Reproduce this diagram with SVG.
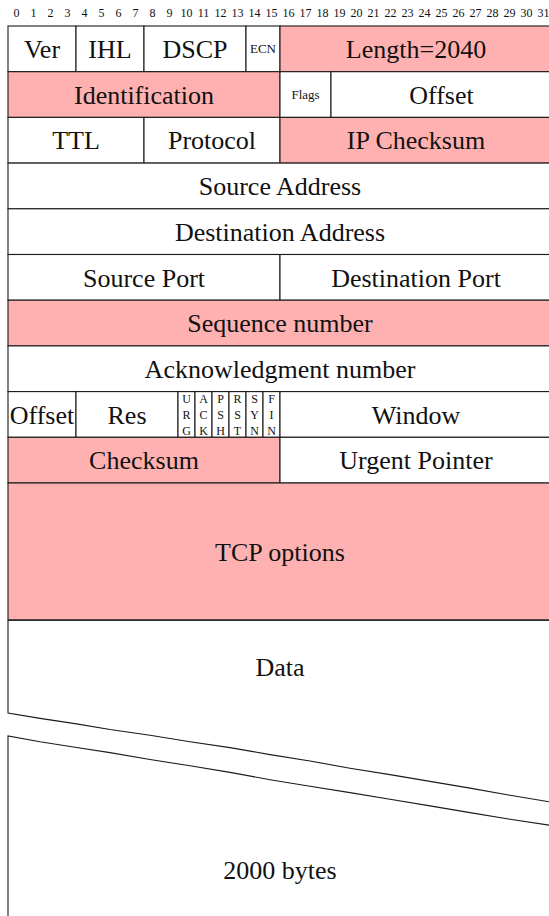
<svg xmlns="http://www.w3.org/2000/svg" width="549" height="916" viewBox="0 0 549 916" font-family="'Liberation Serif','Times New Roman',serif">
<style>
rect{stroke:#1a1a1a;stroke-width:1.1;fill:#ffffff}
rect.p{fill:#ffb1b1}
text{font-family:"Liberation Serif","Times New Roman",serif;fill:#111;text-anchor:middle}
.l{font-size:26px}
.s{font-size:13px}
.f{font-size:12px}
.n{font-size:12px}
.brk{fill:none;stroke:#1a1a1a;stroke-width:1.1}
</style>
<rect x="0" y="0" width="549" height="916" style="fill:#fff;stroke:none"/>
<g id="bits">
<text class="n" x="16.5" y="17">0</text><text class="n" x="33.5" y="17">1</text><text class="n" x="50.5" y="17">2</text><text class="n" x="67.5" y="17">3</text><text class="n" x="84.5" y="17">4</text><text class="n" x="101.5" y="17">5</text><text class="n" x="118.5" y="17">6</text><text class="n" x="135.5" y="17">7</text><text class="n" x="152.5" y="17">8</text><text class="n" x="169.5" y="17">9</text><text class="n" x="186.5" y="17">10</text><text class="n" x="203.5" y="17">11</text><text class="n" x="220.5" y="17">12</text><text class="n" x="237.5" y="17">13</text><text class="n" x="254.5" y="17">14</text><text class="n" x="271.5" y="17">15</text><text class="n" x="288.5" y="17">16</text><text class="n" x="305.5" y="17">17</text><text class="n" x="322.5" y="17">18</text><text class="n" x="339.5" y="17">19</text><text class="n" x="356.5" y="17">20</text><text class="n" x="373.5" y="17">21</text><text class="n" x="390.5" y="17">22</text><text class="n" x="407.5" y="17">23</text><text class="n" x="424.5" y="17">24</text><text class="n" x="441.5" y="17">25</text><text class="n" x="458.5" y="17">26</text><text class="n" x="475.5" y="17">27</text><text class="n" x="492.5" y="17">28</text><text class="n" x="509.5" y="17">29</text><text class="n" x="526.5" y="17">30</text><text class="n" x="543.5" y="17">31</text>
</g>
<g id="ver"><rect x="8" y="26" width="68" height="45.7"/><text class="l" x="42" y="58">Ver</text></g>
<g id="ihl"><rect x="76" y="26" width="68" height="45.7"/><text class="l" x="110" y="58">IHL</text></g>
<g id="dscp"><rect x="144" y="26" width="102" height="45.7"/><text class="l" x="195" y="58">DSCP</text></g>
<g id="ecn"><rect x="246" y="26" width="34" height="45.7"/><text class="s" x="263" y="53">ECN</text></g>
<g id="length"><rect class="p" x="280" y="26" width="272" height="45.7"/><text class="l" x="416" y="58">Length=2040</text></g>
<g id="identification"><rect class="p" x="8" y="71.7" width="272" height="45.7"/><text class="l" x="144" y="103.5">Identification</text></g>
<g id="flags"><rect x="280" y="71.7" width="51" height="45.7"/><text class="s" x="305.5" y="99">Flags</text></g>
<g id="fragoffset"><rect x="331" y="71.7" width="221" height="45.7"/><text class="l" x="441.5" y="103.5">Offset</text></g>
<g id="ttl"><rect x="8" y="117.4" width="136" height="45.7"/><text class="l" x="76" y="149">TTL</text></g>
<g id="protocol"><rect x="144" y="117.4" width="136" height="45.7"/><text class="l" x="212" y="149">Protocol</text></g>
<g id="ipchecksum"><rect class="p" x="280" y="117.4" width="272" height="45.7"/><text class="l" x="416" y="149">IP Checksum</text></g>
<g id="srcaddr"><rect x="8" y="163.1" width="544" height="45.7"/><text class="l" x="280" y="195">Source Address</text></g>
<g id="dstaddr"><rect x="8" y="208.8" width="544" height="45.7"/><text class="l" x="280" y="240.5">Destination Address</text></g>
<g id="srcport"><rect x="8" y="254.5" width="272" height="45.7"/><text class="l" x="144" y="286.5">Source Port</text></g>
<g id="dstport"><rect x="280" y="254.5" width="272" height="45.7"/><text class="l" x="416" y="286.5">Destination Port</text></g>
<g id="seq"><rect class="p" x="8" y="300.2" width="544" height="45.7"/><text class="l" x="280" y="332">Sequence number</text></g>
<g id="ack"><rect x="8" y="345.9" width="544" height="45.7"/><text class="l" x="280" y="377.5">Acknowledgment number</text></g>
<g id="dataoffset"><rect x="8" y="391.6" width="68" height="45.7"/><text class="l" x="42" y="423.5">Offset</text></g>
<g id="res"><rect x="76" y="391.6" width="102" height="45.7"/><text class="l" x="127" y="423.5">Res</text></g>
<g id="urg"><rect x="178" y="391.6" width="17" height="45.7"/><text class="f" x="186.5" y="403">U</text><text class="f" x="186.5" y="419">R</text><text class="f" x="186.5" y="435">G</text></g>
<g id="ackf"><rect x="195" y="391.6" width="17" height="45.7"/><text class="f" x="203.5" y="403">A</text><text class="f" x="203.5" y="419">C</text><text class="f" x="203.5" y="435">K</text></g>
<g id="psh"><rect x="212" y="391.6" width="17" height="45.7"/><text class="f" x="220.5" y="403">P</text><text class="f" x="220.5" y="419">S</text><text class="f" x="220.5" y="435">H</text></g>
<g id="rst"><rect x="229" y="391.6" width="17" height="45.7"/><text class="f" x="237.5" y="403">R</text><text class="f" x="237.5" y="419">S</text><text class="f" x="237.5" y="435">T</text></g>
<g id="syn"><rect x="246" y="391.6" width="17" height="45.7"/><text class="f" x="254.5" y="403">S</text><text class="f" x="254.5" y="419">Y</text><text class="f" x="254.5" y="435">N</text></g>
<g id="fin"><rect x="263" y="391.6" width="17" height="45.7"/><text class="f" x="271.5" y="403">F</text><text class="f" x="271.5" y="419">I</text><text class="f" x="271.5" y="435">N</text></g>
<g id="window"><rect x="280" y="391.6" width="272" height="45.7"/><text class="l" x="416" y="423.5">Window</text></g>
<g id="tcpchecksum"><rect class="p" x="8" y="437.3" width="272" height="45.7"/><text class="l" x="144" y="469">Checksum</text></g>
<g id="urgent"><rect x="280" y="437.3" width="272" height="45.7"/><text class="l" x="416" y="469">Urgent Pointer</text></g>
<g id="options"><rect class="p" x="8" y="483" width="544" height="137.1"/><text class="l" x="280" y="560.5">TCP options</text></g>
<g id="data">
<path class="brk" d="M8,620.1 L552,620.1 M8,620.1 L8,713 L40,718.4 L75,723.6 L110,729.5 L150,735.2 L190,741.8 L230,747.6 L270,754.6 L310,761 L350,768.2 L390,774.6 L430,781.4 L470,788.1 L510,795.3 L552,802.3"/>
<text class="l" x="280" y="675.5">Data</text>
</g>
<g id="dataend">
<path class="brk" d="M8,916 L8,736 L40,741.8 L75,747.2 L110,752.6 L150,759.5 L190,765.8 L230,772.4 L270,779.7 L310,786.2 L350,792.6 L390,799.3 L430,805.9 L470,812.6 L510,819.2 L552,825.6"/>
<text class="l" x="280" y="879">2000 bytes</text>
</g>
</svg>
